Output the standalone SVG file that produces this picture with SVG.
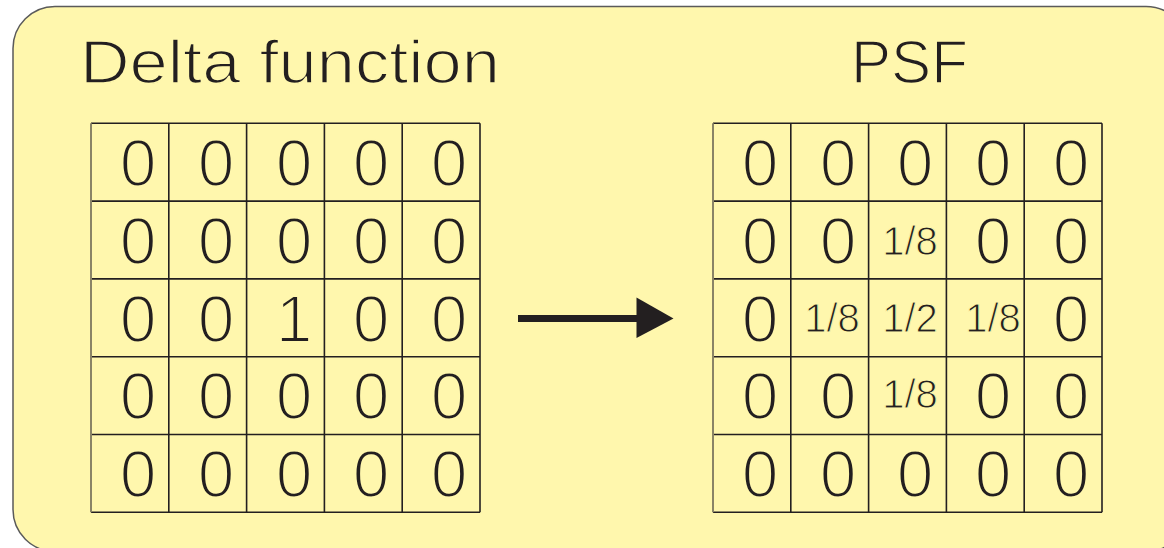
<svg xmlns="http://www.w3.org/2000/svg" width="1164" height="548" viewBox="0 0 1164 548">
  <style>
    .panel { fill: #fff7ad; stroke: #5a5a5a; stroke-width: 1.5; }
    .grid line { stroke: #231f20; stroke-width: 1.6; }
    /* a stroke in the panel colour drawn over the glyphs keeps them light */
    .title { font-family: "Liberation Sans", Arial, sans-serif; font-size: 62px; fill: #231f20; stroke: #fff7ad; stroke-width: 1.6; }
    .big { font-family: "Liberation Sans", Arial, sans-serif; font-size: 66px; fill: #231f20; text-anchor: middle; stroke: #fff7ad; stroke-width: 2.2; }
    .frac { font-family: "Liberation Sans", Arial, sans-serif; font-size: 40px; fill: #231f20; text-anchor: middle; stroke: #fff7ad; stroke-width: 1; }
  </style>
  <defs>
    <!-- 5x5 table lines, cell 77.8 -->
    <g id="table" class="grid">
      <line x1="0" y1="0" x2="389" y2="0"/>
      <line x1="0" y1="77.8" x2="389" y2="77.8"/>
      <line x1="0" y1="155.6" x2="389" y2="155.6"/>
      <line x1="0" y1="233.4" x2="389" y2="233.4"/>
      <line x1="0" y1="311.2" x2="389" y2="311.2"/>
      <line x1="0" y1="389" x2="389" y2="389"/>
      <line x1="0" y1="0" x2="0" y2="389" style="stroke:#8a8466;stroke-width:2"/>
      <line x1="77.8" y1="0" x2="77.8" y2="389"/>
      <line x1="155.6" y1="0" x2="155.6" y2="389"/>
      <line x1="233.4" y1="0" x2="233.4" y2="389"/>
      <line x1="311.2" y1="0" x2="311.2" y2="389"/>
      <line x1="389" y1="0" x2="389" y2="389"/>
    </g>
  </defs>

  <rect class="panel" x="13" y="6.5" width="1175" height="545" rx="42" ry="42"/>

  <g id="delta">
    <text class="title" x="80" y="83" textLength="420" lengthAdjust="spacingAndGlyphs">Delta function</text>
    <use href="#table" x="91" y="123.3"/>
    <g class="big">
      <text x="138" y="186">0</text><text x="216" y="186">0</text><text x="294" y="186">0</text><text x="371" y="186">0</text><text x="449" y="186">0</text>
      <text x="138" y="264">0</text><text x="216" y="264">0</text><text x="294" y="264">0</text><text x="371" y="264">0</text><text x="449" y="264">0</text>
      <text x="138" y="342">0</text><text x="216" y="342">0</text><text x="294" y="342">1</text><text x="371" y="342">0</text><text x="449" y="342">0</text>
      <text x="138" y="419">0</text><text x="216" y="419">0</text><text x="294" y="419">0</text><text x="371" y="419">0</text><text x="449" y="419">0</text>
      <text x="138" y="497">0</text><text x="216" y="497">0</text><text x="294" y="497">0</text><text x="371" y="497">0</text><text x="449" y="497">0</text>
    </g>
  </g>

  <g id="psf">
    <text class="title" x="851" y="83" textLength="117" lengthAdjust="spacingAndGlyphs">PSF</text>
    <use href="#table" x="713" y="123.3"/>
    <g class="big">
      <text x="760" y="186">0</text><text x="838" y="186">0</text><text x="915" y="186">0</text><text x="993" y="186">0</text><text x="1071" y="186">0</text>
      <text x="760" y="264">0</text><text x="838" y="264">0</text><text x="993" y="264">0</text><text x="1071" y="264">0</text>
      <text x="760" y="342">0</text><text x="1071" y="342">0</text>
      <text x="760" y="419">0</text><text x="838" y="419">0</text><text x="993" y="419">0</text><text x="1071" y="419">0</text>
      <text x="760" y="497">0</text><text x="838" y="497">0</text><text x="915" y="497">0</text><text x="993" y="497">0</text><text x="1071" y="497">0</text>
    </g>
    <g class="frac">
      <text x="910" y="255">1/8</text>
      <text x="832" y="332">1/8</text>
      <text x="910" y="332">1/2</text>
      <text x="993" y="332">1/8</text>
      <text x="910" y="408">1/8</text>
    </g>
  </g>

  <g id="connectors">
    <line x1="518" y1="318.5" x2="640" y2="318.5" stroke="#231f20" stroke-width="7"/>
    <polygon points="636.5,297.5 673.5,318.5 636.5,338" fill="#231f20"/>
  </g>
</svg>
